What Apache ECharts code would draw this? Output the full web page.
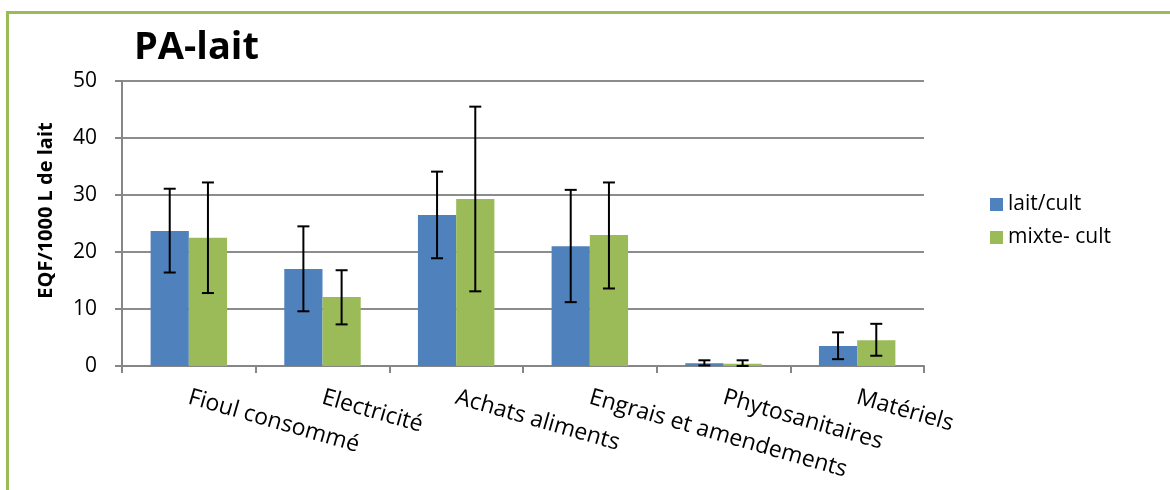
<!DOCTYPE html>
<html><head><meta charset="utf-8">
<script src="https://cdn.jsdelivr.net/npm/echarts@6/dist/echarts.min.js"></script>
<style>
html,body{margin:0;padding:0;background:#fff;}
#c{position:absolute;left:0;top:0;width:1170px;height:490px;}
#frame{position:absolute;left:6px;top:11px;width:1200px;height:600px;border-left:3px solid #9BBB59;border-top:3px solid #9BBB59;pointer-events:none;}
</style></head>
<body>
<div id="c"></div><div id="frame"></div>
<script>
const categories = ['Fioul consommé','Electricité','Achats aliments','Engrais et amendements','Phytosanitaires','Matériels'];
const seriesNames = ['lait/cult','mixte- cult'];
const laitCult = [23.7, 17.0, 26.5, 21.0, 0.5, 3.5];
const laitCultLow = [16.4, 9.6, 18.9, 11.2, 0.1, 1.2];
const laitCultHigh = [31.1, 24.5, 34.1, 30.9, 1.0, 5.9];
const mixteCult = [22.5, 12.1, 29.3, 23.0, 0.4, 4.5];
const mixteCultLow = [12.8, 7.3, 13.1, 13.6, 0.0, 1.8];
const mixteCultHigh = [32.2, 16.8, 45.5, 32.2, 1.0, 7.4];
const yTicks = [0, 10, 20, 30, 40, 50];

const FONT = '"Open Sans", "Noto Sans", sans-serif';
const BAR_W = 0.286;

function errSeries(lows, highs, sign){
  return {
    type:'custom', z:10, silent:true,
    data: lows.map((l,i)=>[i,l,highs[i]]),
    renderItem:(params, api)=>{
      const i = api.value(0);
      const lo = api.coord([i, api.value(1)]);
      const hi = api.coord([i, api.value(2)]);
      const bw = api.size([1,0])[0];
      const cx = lo[0] + sign*bw*BAR_W/2;
      const st = {stroke:'#000', lineWidth:2};
      const h = 6;
      return {type:'group', children:[
        {type:'line', shape:{x1:cx,y1:lo[1],x2:cx,y2:hi[1]}, style:st},
        {type:'line', shape:{x1:cx-h,y1:hi[1],x2:cx+h,y2:hi[1]}, style:st},
        {type:'line', shape:{x1:cx-h,y1:lo[1],x2:cx+h,y2:lo[1]}, style:st}
      ]};
    }
  };
}

const chart = echarts.init(document.getElementById('c'));
chart.setOption({
  backgroundColor:'#fff',
  animation:false,
  title:{text:'PA-lait', left:129, top:24, textStyle:{fontFamily:FONT, fontWeight:'bold', fontSize:38, color:'#000'}},
  legend:{
    orient:'vertical', left:985, top:189, itemWidth:13, itemHeight:13, itemGap:12,
    icon:'rect', data:seriesNames,
    textStyle:{fontFamily:FONT, fontSize:21, color:'#000'}
  },
  grid:{left:122, top:81, right:246, bottom:124},
  xAxis:{
    type:'category', data:categories,
    axisLine:{lineStyle:{color:'#868686', width:2}},
    axisTick:{show:true, length:7, lineStyle:{color:'#868686', width:2}},
    axisLabel:{rotate:-16, margin:31, interval:0, fontFamily:FONT, fontSize:23, color:'#000'}
  },
  yAxis:{
    type:'value', min:yTicks[0], max:yTicks[yTicks.length-1], interval:10,
    name:'EQF/1000 L de lait', nameLocation:'middle', nameGap:66, nameRotate:90,
    nameTextStyle:{fontFamily:FONT, fontWeight:'bold', fontSize:20, color:'#000', padding:[0,0,0,26]},
    axisLine:{show:true, lineStyle:{color:'#868686', width:2}},
    axisTick:{show:true, length:7, lineStyle:{color:'#868686', width:2}},
    splitLine:{lineStyle:{color:'#8c8c8c', width:2}},
    axisLabel:{margin:25, fontFamily:FONT, fontSize:21, color:'#000'}
  },
  series:[
    {name:seriesNames[0], type:'bar', data:laitCult, barWidth:(BAR_W*100)+'%', barGap:'0%', itemStyle:{color:'#4F81BD'}},
    {name:seriesNames[1], type:'bar', data:mixteCult, barWidth:(BAR_W*100)+'%', barGap:'0%', itemStyle:{color:'#9BBB59'}},
    errSeries(laitCultLow, laitCultHigh, -1),
    errSeries(mixteCultLow, mixteCultHigh, 1)
  ]
});
</script>
</body></html>
